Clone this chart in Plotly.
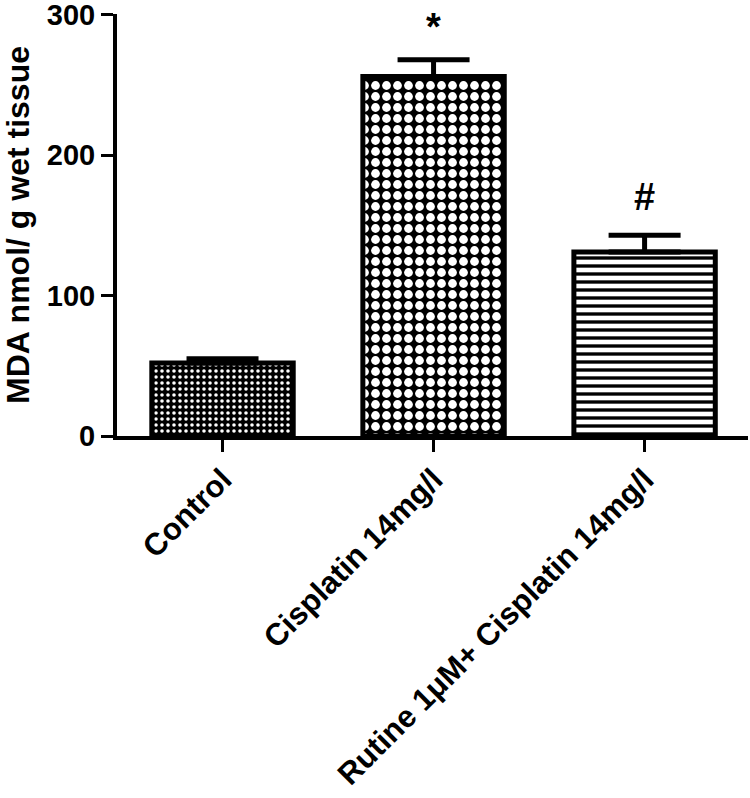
import plotly.graph_objects as go

categories = ["Control", "Cisplatin 14mg/l", "Rutine 1\u03bcM+ Cisplatin 14mg/l"]
means = [52, 256, 131]
sem = [3, 12, 12]
sig_marks = ["", "*", "#"]
y_ticks = [0, 100, 200, 300]

FONT = dict(family="Liberation Sans, Arial, sans-serif", color="black", weight="bold")

patterns = [
    dict(shape=".", fgcolor="white", bgcolor="black", size=6, solidity=0.28, fgopacity=1),
    dict(shape=".", fgcolor="white", bgcolor="black", size=11, solidity=0.5, fgopacity=1),
    dict(shape="-", fgcolor="black", bgcolor="white", size=8, solidity=0.42, fgopacity=1),
]
mark_gap = [0, 23, 27]

fig = go.Figure()
for i, (c, m, s) in enumerate(zip(categories, means, sem)):
    fig.add_trace(go.Bar(
        x=[c], y=[m], width=0.67,
        marker=dict(color=patterns[i]["bgcolor"], pattern=patterns[i],
                    line=dict(color="black", width=5)),
        error_y=dict(type="data", array=[s], arrayminus=[0], symmetric=False,
                     color="black", thickness=5, width=36),
        showlegend=False,
    ))

for c, m, s, t, g in zip(categories, means, sem, sig_marks, mark_gap):
    if t:
        fig.add_annotation(x=c, y=m + s + g, text=t, showarrow=False,
                           yanchor="middle", font=dict(size=38, **FONT))

fig.update_layout(
    width=750, height=798,
    margin=dict(l=117, r=2, t=14, b=362),
    paper_bgcolor="white", plot_bgcolor="white",
    font=dict(size=30, **FONT),
)
fig.update_xaxes(
    range=[-0.5, 2.49], showline=True, linecolor="black", linewidth=4,
    ticks="outside", ticklen=12, tickwidth=3, tickcolor="black",
    tickangle=-45, tickfont=dict(size=31, **FONT), showgrid=False,
    automargin=False, ticklabelstandoff=-3,
)
fig.update_yaxes(
    range=[0, 300.5], tickvals=y_ticks, showline=True, linecolor="black", linewidth=4,
    ticks="outside", ticklen=12, tickwidth=3, tickcolor="black",
    tickfont=dict(size=29, **FONT), showgrid=False, zeroline=False,
    ticklabeloverflow="allow", automargin=False,
    title=dict(text="MDA nmol/ g wet tissue", font=dict(size=32, **FONT), standoff=16),
)

fig.write_html("out.html", config={"displayModeBar": False},
               post_script="document.body.style.margin='0';")
